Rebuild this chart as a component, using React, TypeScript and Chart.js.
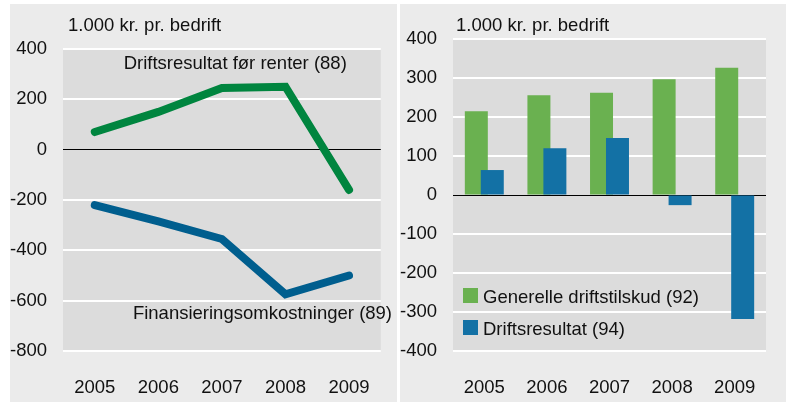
import React, { useEffect, useRef } from 'react';
import { Chart, registerables } from 'chart.js';

Chart.register(...registerables);

// ---------- data ----------
const years = ['2005', '2006', '2007', '2008', '2009'];

// left panel (lines)
const driftsresultatForRenter = [70, 150, 245, 250, -160];
const finansieringsomkostninger = [-220, -285, -355, -575, -500];
const leftYTicks = [-800, -600, -400, -200, 0, 200, 400];

// right panel (bars)
const generelleDriftstilskud = [215, 256, 262, 297, 326];
const driftsresultat = [64, 120, 146, -26, -318];
const rightYTicks = [-400, -300, -200, -100, 0, 100, 200, 300, 400];

const unitLabel = '1.000 kr. pr. bedrift';
const lineLabels = ['Driftsresultat før renter (88)', 'Finansieringsomkostninger (89)'];
const barLabels = ['Generelle driftstilskud (92)', 'Driftsresultat (94)'];

// ---------- styles ----------
const FONT_FAMILY = "'Liberation Sans', Arial, sans-serif";
const FONT_SIZE = 18.5;
const TEXT = '#111111';
const PANEL_BG = '#ebebeb';
const PLOT_BG = '#dcdcdc';
const LINE_GREEN = '#00853f';
const LINE_BLUE = '#005e8e';
const BAR_GREEN = '#6ab150';
const BAR_BLUE = '#1371a5';

const plotBg = {
  id: 'plotBg',
  beforeDraw(chart: any) {
    const { ctx, chartArea } = chart;
    ctx.save();
    ctx.fillStyle = PLOT_BG;
    ctx.fillRect(chartArea.left, chartArea.top, chartArea.right - chartArea.left, chartArea.bottom - chartArea.top);
    ctx.restore();
  },
};

function yScale(ticks: number[], min: number, max: number) {
  return {
    min,
    max,
    afterBuildTicks: (s: any) => {
      s.ticks = ticks.map((v) => ({ value: v }));
    },
    afterFit: (s: any) => {
      s.width = 53;
    },
    border: { display: false },
    grid: {
      drawTicks: false,
      tickLength: 0,
      color: (c: any) => (c.tick && c.tick.value === 0 ? '#000000' : '#ffffff'),
      lineWidth: (c: any) => (c.tick && c.tick.value === 0 ? 1 : 2),
    },
    ticks: {
      padding: 16,
      color: TEXT,
      font: { family: FONT_FAMILY, size: FONT_SIZE },
      callback: (v: any) => String(v),
    },
  };
}

function xScale(offset: boolean) {
  return {
    type: 'category' as const,
    offset,
    afterFit: (s: any) => {
      s.height = 51;
    },
    border: { display: false },
    grid: { display: false, drawTicks: false, tickLength: 0 },
    ticks: {
      padding: 26,
      color: TEXT,
      font: { family: FONT_FAMILY, size: FONT_SIZE },
    },
  };
}

function setFont(ctx: CanvasRenderingContext2D) {
  ctx.font = `${FONT_SIZE}px ${FONT_FAMILY}`;
  ctx.fillStyle = TEXT;
}

const lineText = {
  id: 'lineText',
  afterDraw(chart: any) {
    const { ctx, chartArea } = chart;
    const xs = chart.scales.x;
    const ys = chart.scales.y;
    ctx.save();
    setFont(ctx);
    ctx.textBaseline = 'alphabetic';
    ctx.textAlign = 'left';
    ctx.fillText(unitLabel, chartArea.left + 5, 26.7);
    ctx.textAlign = 'center';
    ctx.fillText(lineLabels[0], xs.getPixelForValue(2.21), ys.getPixelForValue(320));
    ctx.textAlign = 'left';
    ctx.fillText(lineLabels[1], xs.getPixelForValue(0.6), ys.getPixelForValue(-673));
    ctx.restore();
  },
};

const barText = {
  id: 'barText',
  // draw blue bars above green bars while keeping green in the left slot
  beforeDatasetDraw(chart: any, args: any) {
    if (args.index === 1 && !chart.$lateDraw) return false;
    return true;
  },
  afterDatasetsDraw(chart: any) {
    chart.$lateDraw = true;
    chart.getDatasetMeta(1).controller.draw();
    chart.$lateDraw = false;
  },
  afterDraw(chart: any) {
    const { ctx, chartArea } = chart;
    ctx.save();
    setFont(ctx);
    ctx.textBaseline = 'alphabetic';
    ctx.textAlign = 'left';
    ctx.fillText(unitLabel, chartArea.left + 3, 26.7);
    const colors = [BAR_GREEN, BAR_BLUE];
    const rowBase = [299, 331];
    barLabels.forEach((lbl, i) => {
      ctx.fillStyle = colors[i];
      ctx.fillRect(chartArea.left + 10, rowBase[i] - 15, 15, 15);
      ctx.fillStyle = TEXT;
      ctx.fillText(lbl, chartArea.left + 30, rowBase[i] - 0.3);
    });
    ctx.restore();
  },
};

function LeftChart() {
  const ref = useRef<HTMLCanvasElement>(null);
  useEffect(() => {
    const chart = new Chart(ref.current!, {
      type: 'line',
      data: {
        labels: years,
        datasets: [
          {
            label: lineLabels[0],
            data: driftsresultatForRenter,
            borderColor: LINE_GREEN,
            borderWidth: 8,
            pointRadius: 0,
            tension: 0,
            borderCapStyle: 'round',
            borderJoinStyle: 'miter',
          },
          {
            label: lineLabels[1],
            data: finansieringsomkostninger,
            borderColor: LINE_BLUE,
            borderWidth: 8,
            pointRadius: 0,
            tension: 0,
            borderCapStyle: 'round',
            borderJoinStyle: 'miter',
          },
        ],
      },
      options: {
        responsive: false,
        animation: false,
        devicePixelRatio: 1,
        layout: { padding: { top: 45, right: 14, left: 0, bottom: 0 } },
        plugins: { legend: { display: false }, tooltip: { enabled: false } },
        scales: {
          x: xScale(true),
          y: yScale(leftYTicks, -800, 400),
        },
      } as any,
      plugins: [plotBg, lineText],
    });
    return () => chart.destroy();
  }, []);
  return <canvas ref={ref} width={387} height={398} />;
}

function RightChart() {
  const ref = useRef<HTMLCanvasElement>(null);
  useEffect(() => {
    const chart = new Chart(ref.current!, {
      type: 'bar',
      data: {
        labels: years,
        datasets: [
          {
            label: barLabels[0],
            data: generelleDriftstilskud,
            backgroundColor: BAR_GREEN,
            categoryPercentage: 0.51,
            barPercentage: 1.44,
          },
          {
            label: barLabels[1],
            data: driftsresultat,
            backgroundColor: BAR_BLUE,
            categoryPercentage: 0.51,
            barPercentage: 1.44,
          },
        ],
      },
      options: {
        responsive: false,
        animation: false,
        devicePixelRatio: 1,
        layout: { padding: { top: 35, right: 20, left: 0, bottom: 0 } },
        plugins: { legend: { display: false }, tooltip: { enabled: false } },
        scales: {
          x: xScale(true),
          y: yScale(rightYTicks, -400, 400),
        },
      } as any,
      plugins: [plotBg, barText],
    });
    return () => chart.destroy();
  }, []);
  return <canvas ref={ref} width={386} height={398} />;
}

export default function App() {
  return (
    <div style={{ position: 'absolute', left: 0, top: 0, width: 786, height: 403, background: '#ffffff', overflow: 'hidden' }}>
      <div style={{ position: 'absolute', left: 10, top: 4, width: 387, height: 398, background: PANEL_BG }}>
        <LeftChart />
      </div>
      <div style={{ position: 'absolute', left: 400, top: 4, width: 386, height: 398, background: PANEL_BG }}>
        <RightChart />
      </div>
    </div>
  );
}
